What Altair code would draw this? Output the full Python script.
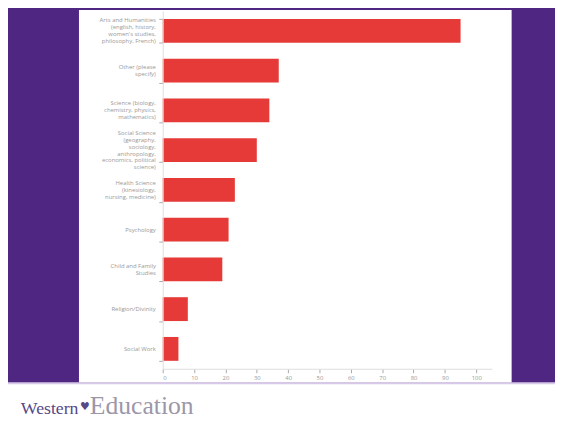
import altair as alt
import pandas as pd

# ---- data ----
categories = [
    "Arts and Humanities|(english, history,|women's studies,|philosophy, French)",
    "Other (please|specify)",
    "Science (biology,|chemistry, physics,|mathematics)",
    "Social Science|(geography,|sociology,|anthropology,|economics, political|science)",
    "Health Science|(kinesiology,|nursing, medicine)",
    "Psychology",
    "Child and Family|Studies",
    "Religion/Divinity",
    "Social Work",
]
values = [95, 37, 34, 30, 23, 21, 19, 8, 5]
x_ticks = [0, 10, 20, 30, 40, 50, 60, 70, 80, 90, 100]
footer_left = "Western"
footer_mark = "♥"
footer_right = "Education"

PURPLE = "#4f2783"
RED = "#e53a37"
LINE_H = 7
W, H = 334, 363
P_IN, P_OUT = 0.4, 0.2

df = pd.DataFrame({"category": categories, "value": values})

# one row per label line, centred on its band
step = H / (len(categories) - P_IN + 2 * P_OUT)
half_band = step * (1 - P_IN) / 2
rows = []
for c in categories:
    parts = c.split("|")
    n = len(parts)
    for i, p in enumerate(parts):
        rows.append({"category": c, "line": p,
                     "off": half_band + (i - (n - 1) / 2) * LINE_H})
lines_df = pd.DataFrame(rows)

one = alt.Data(values=[{"k": 1}])

panel = alt.Chart(one).mark_rect(color="white").encode(
    x=alt.value(-85), x2=alt.value(354), y=alt.value(-1), y2=alt.value(377)
)
footer_bg = alt.Chart(one).mark_rect(color="white").encode(
    x=alt.value(-160), x2=alt.value(400), y=alt.value(377), y2=alt.value(420)
)
footer_line = alt.Chart(one).mark_rule(color="#d8c8ea", strokeWidth=1.5).encode(
    x=alt.value(-160), x2=alt.value(400), y=alt.value(378)
)

y_enc = alt.Y(
    "category:N",
    sort=categories,
    scale=alt.Scale(paddingInner=P_IN, paddingOuter=P_OUT),
    axis=alt.Axis(
        title=None, grid=False, zindex=1, tickBand="extent", labels=False,
        domainColor="#dddddd", tickColor="#aaaaaa", tickSize=4,
    ),
)

bars = alt.Chart(df).mark_bar(color=RED).encode(
    x=alt.X(
        "value:Q",
        scale=alt.Scale(domain=[0, 105], nice=False),
        axis=alt.Axis(
            values=x_ticks, title=None, grid=False, zindex=1,
            domainColor="#dddddd", tickColor="#aaaaaa", tickSize=4,
            labelColor="#999999", labelFontSize=6, labelFont="Open Sans",
            labelPadding=2,
        ),
    ),
    y=y_enc,
)

labels = alt.Chart(lines_df).mark_text(
    align="right", baseline="middle", font="Open Sans", fontSize=6,
    color="#999999",
).encode(
    x=alt.value(-7),
    y=alt.Y("category:N", sort=categories),
    yOffset=alt.YOffset("off:Q", scale=None),
    text="line:N",
)

t1 = alt.Chart(one).mark_text(
    text=footer_left, font="Liberation Serif", fontSize=18, color="#574887",
    align="left", baseline="alphabetic",
).encode(x=alt.value(-144), y=alt.value(409))
t2 = alt.Chart(one).mark_text(
    text=footer_mark, font="DejaVu Sans", fontSize=11, color="#574887",
    align="left", baseline="alphabetic",
).encode(x=alt.value(-84), y=alt.value(405))
t3 = alt.Chart(one).mark_text(
    text=footer_right, font="Liberation Serif", fontSize=26, color="#9b97a8",
    align="left", baseline="alphabetic",
).encode(x=alt.value(-74), y=alt.value(409))

chart = alt.layer(panel, footer_bg, footer_line, bars, labels, t1, t2, t3).properties(
    width=W, height=H,
    autosize=alt.AutoSizeParams(type="none"),
    padding={"left": 157, "top": 0, "right": 64, "bottom": 52},
    background=PURPLE,
).configure_view(stroke=None)

chart.save("out.html", embed_options={"renderer": "svg", "actions": False})
